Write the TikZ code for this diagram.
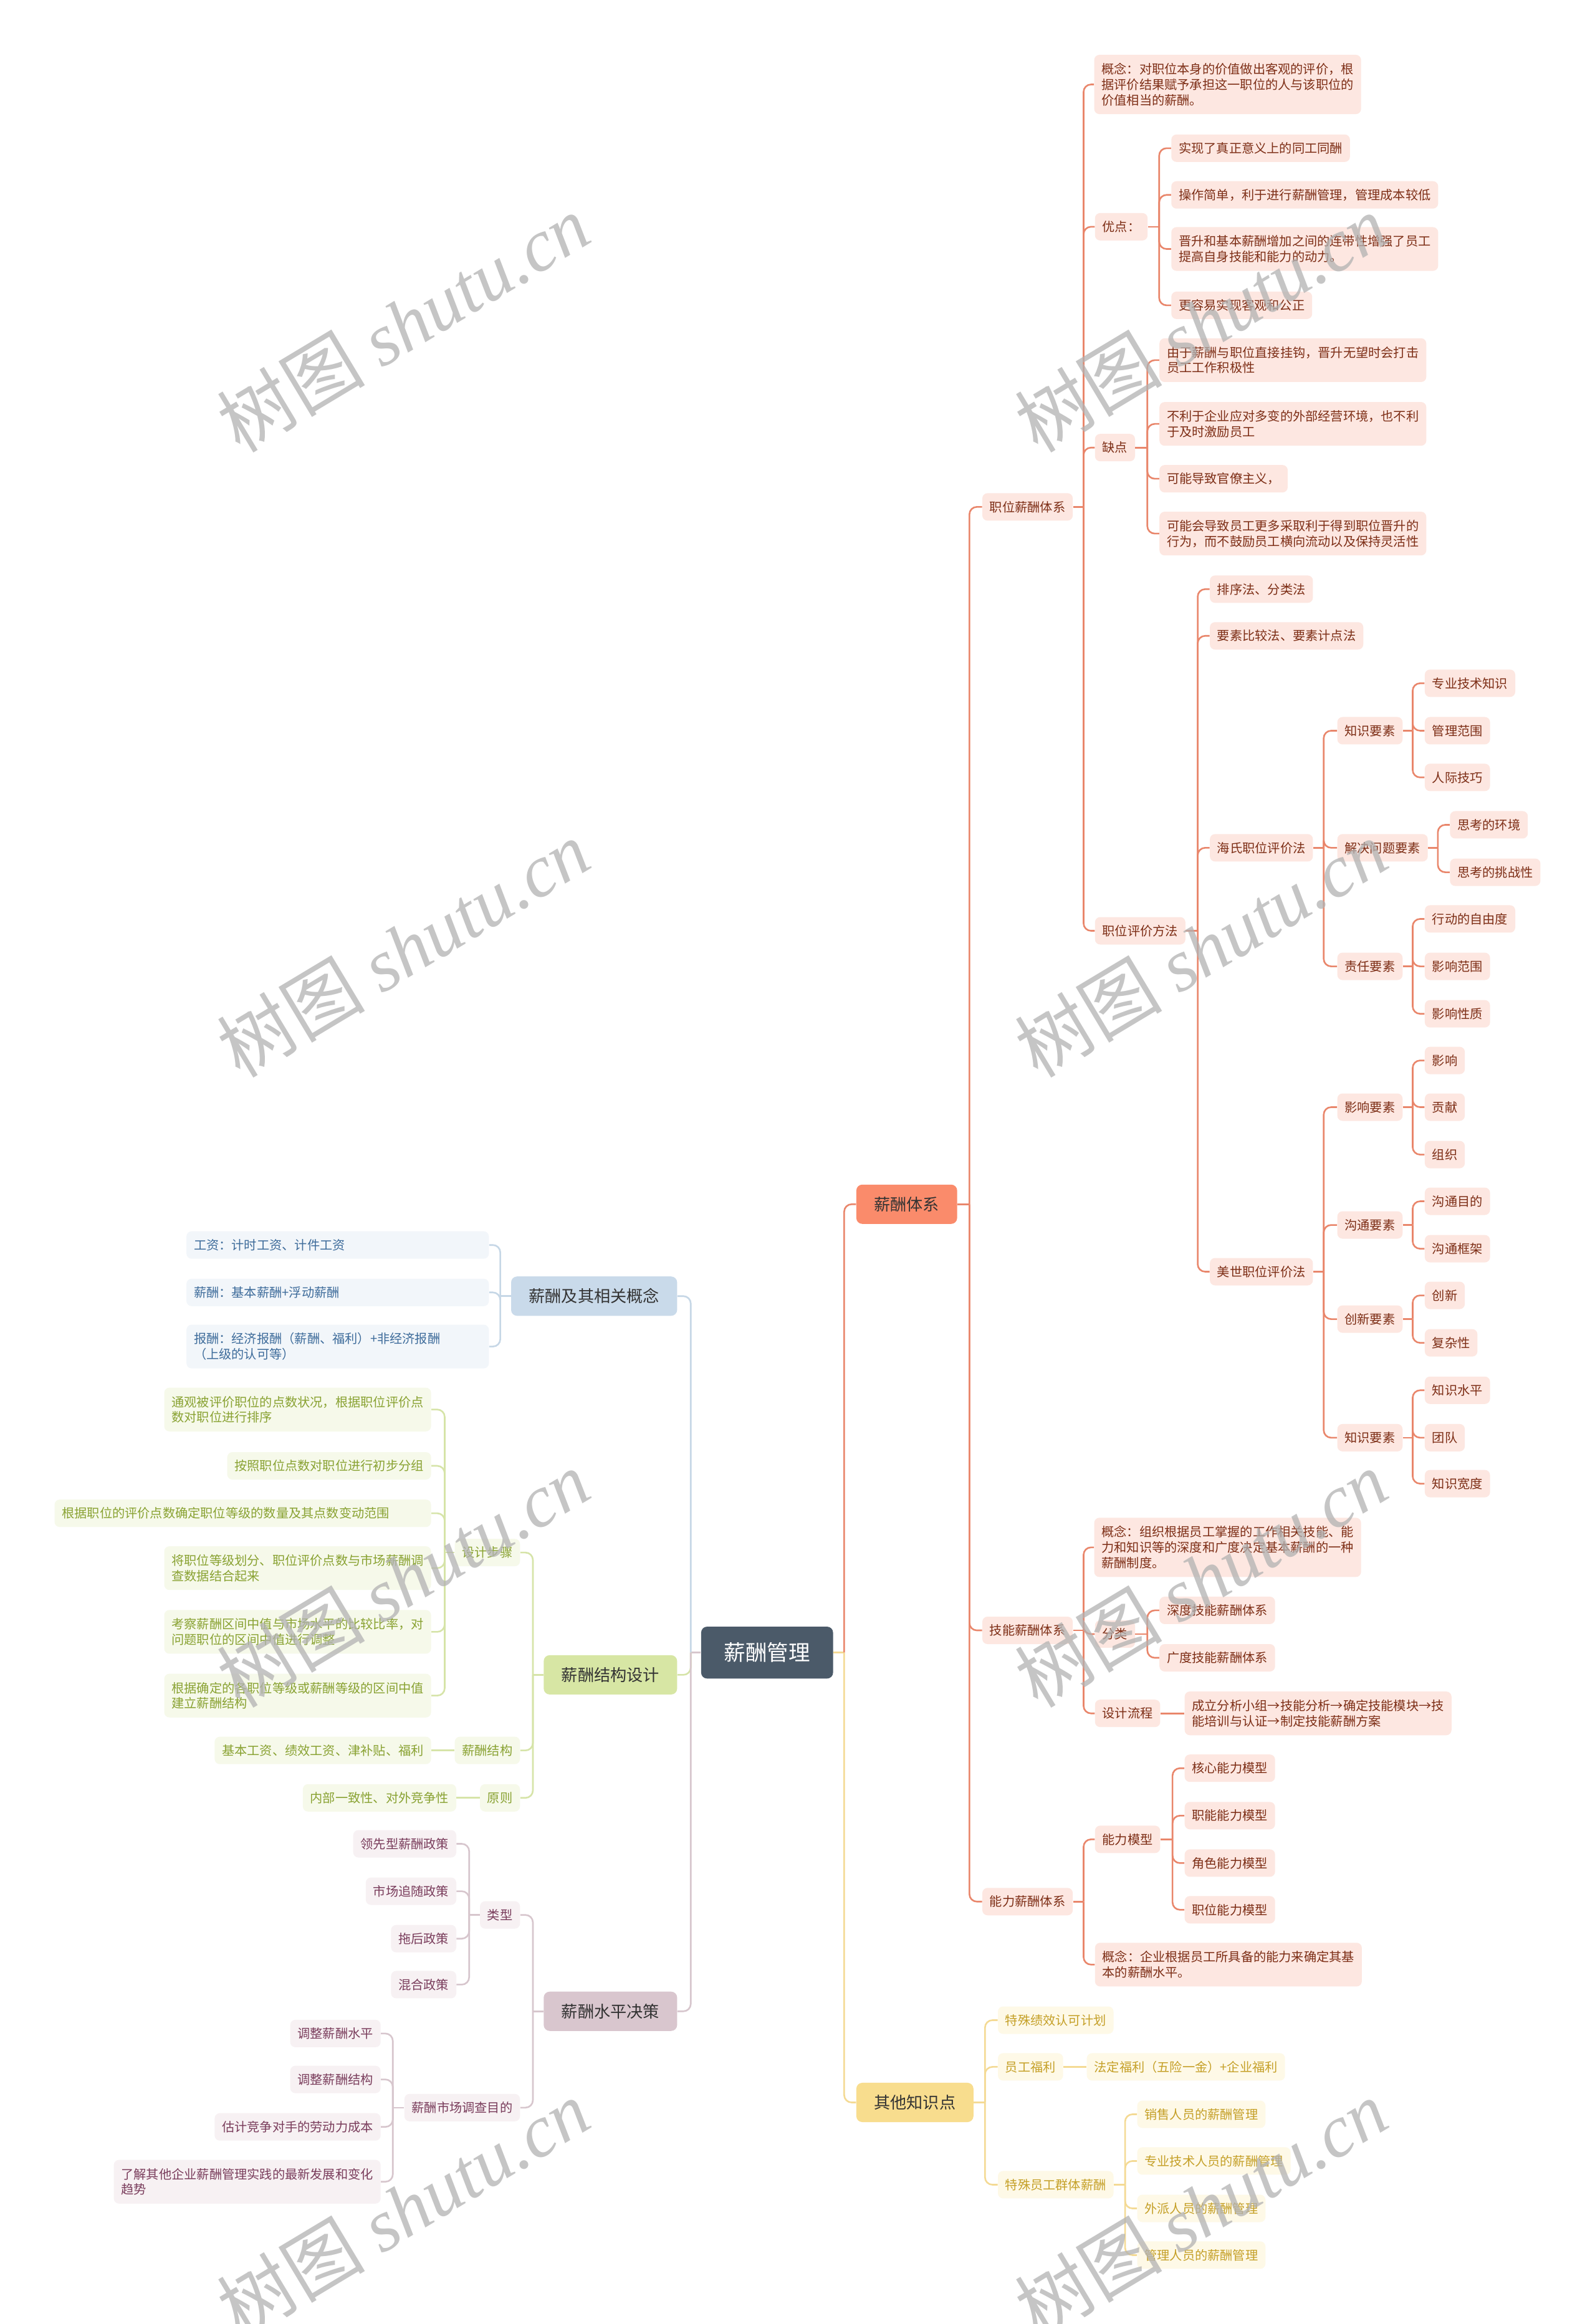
\documentclass[tikz,border=0pt]{standalone}
\usepackage{fontspec}
\setmainfont{Noto Sans CJK SC}
\newfontfamily\wmlatin{Liberation Serif}
\usetikzlibrary{calc}
\definecolor{rootc}{HTML}{4B5A69}
\definecolor{redm}{HTML}{FA8B6B}
\definecolor{redl}{HTML}{FDE7E1}
\definecolor{redt}{HTML}{7D2E16}
\definecolor{redline}{HTML}{E9866B}
\definecolor{yelm}{HTML}{F8DD8E}
\definecolor{yell}{HTML}{FEF9E7}
\definecolor{yelt}{HTML}{C5A028}
\definecolor{yelline}{HTML}{F4DA94}
\definecolor{blum}{HTML}{C9DAEA}
\definecolor{blul}{HTML}{F2F6FA}
\definecolor{blut}{HTML}{3E6C9B}
\definecolor{bluline}{HTML}{C6D7E6}
\definecolor{grem}{HTML}{D7E6A4}
\definecolor{grel}{HTML}{F6F9EA}
\definecolor{gret}{HTML}{89A232}
\definecolor{greline}{HTML}{D6E4A8}
\definecolor{maum}{HTML}{D9C6CE}
\definecolor{maul}{HTML}{F7F1F3}
\definecolor{maut}{HTML}{7A3D5C}
\definecolor{mauline}{HTML}{D7C6CD}
\tikzset{
  leaf/.style={rounded corners=3.5pt, inner xsep=5pt, inner ysep=0pt, minimum height=18.5pt,
    font=\fontsize{8.5}{10.4}\selectfont, align=left},
  two/.style={minimum height=29.5pt},
  three/.style={minimum height=40pt},
  rl/.style={leaf, fill=redl, text=redt, anchor=west},
  yl/.style={leaf, fill=yell, text=yelt, anchor=west},
  bl/.style={leaf, fill=blul, text=blut, anchor=east},
  gl/.style={leaf, fill=grel, text=gret, anchor=east},
  ml/.style={leaf, fill=maul, text=maut, anchor=east},
  mainn/.style={rounded corners=4pt, inner xsep=12pt, inner ysep=0pt, minimum height=26.5pt,
    font=\fontsize{11}{13}\selectfont, text=black!80},
  rootn/.style={rounded corners=4pt, inner xsep=15.5pt, inner ysep=0pt, minimum height=35pt,
    font=\fontsize{14.5}{16}\selectfont, text=white, fill=rootc},
  rline/.style={draw=redline, line width=1.1pt},
  yline/.style={draw=yelline, line width=1.1pt},
  bline/.style={draw=bluline, line width=1.1pt},
  gline/.style={draw=greline, line width=1.1pt},
  mline/.style={draw=mauline, line width=1.1pt},
  wm/.style={rotate=31, text=black!30, opacity=0.75, font=\fontsize{50}{50}\selectfont},
}
\newcommand\rconn[4]{%
  \draw[#1] let \p1=(#2.east) in (\p1) -- (#3,\y1) coordinate (#2j);
  \foreach \cc in {#4}{\draw[#1,rounded corners=5pt] (#2j) |- (\cc.west);}
}
\newcommand\lconn[4]{%
  \draw[#1] let \p1=(#2.west) in (\p1) -- (#3,\y1) coordinate (#2j);
  \foreach \cc in {#4}{\draw[#1,rounded corners=5pt] (#2j) |- (\cc.east);}
}
\begin{document}
\begin{tikzpicture}[x=1pt,y=-1pt]
\fill[white] (0,0) rectangle (1076,1568);
\useasboundingbox (0,0) rectangle (1076,1568);

% root and main branches
\node[rootn] (root) at (517.5,1115) {薪酬管理};
\node[mainn, fill=redm, anchor=west] (mA) at (577.5,812.5) {薪酬体系};
\node[mainn, fill=yelm, anchor=west] (mB) at (577.5,1418.5) {其他知识点};
\node[mainn, fill=blum, anchor=east] (mC) at (457,874.5) {薪酬及其相关概念};
\node[mainn, fill=grem, anchor=east] (mD) at (457,1130) {薪酬结构设计};
\node[mainn, fill=maum, anchor=east] (mE) at (457,1357) {薪酬水平决策};

% ---------- 薪酬体系 ----------
\node[rl] (a1) at (662.5,342) {职位薪酬体系};
\node[rl] (a2) at (662.5,1100) {技能薪酬体系};
\node[rl] (a3) at (662.5,1283) {能力薪酬体系};

\node[rl,three] (b1) at (738,57) {概念：对职位本身的价值做出客观的评价，根\\据评价结果赋予承担这一职位的人与该职位的\\价值相当的薪酬。};
\node[rl] (b2) at (738.5,153) {优点：};
\node[rl] (b3) at (738.5,302) {缺点};
\node[rl] (b4) at (738.5,628) {职位评价方法};

\node[rl] (c1) at (790,100) {实现了真正意义上的同工同酬};
\node[rl] (c2) at (790,131.5) {操作简单，利于进行薪酬管理，管理成本较低};
\node[rl,two] (c3) at (790,168) {晋升和基本薪酬增加之间的连带性增强了员工\\提高自身技能和能力的动力。};
\node[rl] (c4) at (790,206) {更容易实现客观和公正};

\node[rl,two] (d1) at (782,243) {由于薪酬与职位直接挂钩，晋升无望时会打击\\员工工作积极性};
\node[rl,two] (d2) at (782,286) {不利于企业应对多变的外部经营环境，也不利\\于及时激励员工};
\node[rl] (d3) at (782,323) {可能导致官僚主义，};
\node[rl,two] (d4) at (782,360) {可能会导致员工更多采取利于得到职位晋升的\\行为，而不鼓励员工横向流动以及保持灵活性};

\node[rl] (e1) at (816,397.5) {排序法、分类法};
\node[rl] (e2) at (816,429) {要素比较法、要素计点法};
\node[rl] (e3) at (816,572) {海氏职位评价法};
\node[rl] (e4) at (816,858) {美世职位评价法};

\node[rl] (f1) at (902,493) {知识要素};
\node[rl] (f2) at (902,572) {解决问题要素};
\node[rl] (f3) at (902,652) {责任要素};
\node[rl] (g1) at (961,461) {专业技术知识};
\node[rl] (g2) at (961,493) {管理范围};
\node[rl] (g3) at (961,524.5) {人际技巧};
\node[rl] (g4) at (978,556.5) {思考的环境};
\node[rl] (g5) at (978,588.5) {思考的挑战性};
\node[rl] (g6) at (961,620) {行动的自由度};
\node[rl] (g7) at (961,652) {影响范围};
\node[rl] (g8) at (961,684) {影响性质};

\node[rl] (h1) at (902,747) {影响要素};
\node[rl] (h2) at (902,826.5) {沟通要素};
\node[rl] (h3) at (902,890) {创新要素};
\node[rl] (h4) at (902,970) {知识要素};
\node[rl] (i1) at (961,715.5) {影响};
\node[rl] (i2) at (961,747) {贡献};
\node[rl] (i3) at (961,779) {组织};
\node[rl] (i4) at (961,810.5) {沟通目的};
\node[rl] (i5) at (961,842.5) {沟通框架};
\node[rl] (i6) at (961,874) {创新};
\node[rl] (i7) at (961,906) {复杂性};
\node[rl] (i8) at (961,938) {知识水平};
\node[rl] (i9) at (961,970) {团队};
\node[rl] (i10) at (961,1001) {知识宽度};

\node[rl,three] (j1) at (738,1044) {概念：组织根据员工掌握的工作相关技能、能\\力和知识等的深度和广度决定基本薪酬的一种\\薪酬制度。};
\node[rl] (j2) at (738.5,1102.5) {分类};
\node[rl] (j3) at (738.5,1156) {设计流程};
\node[rl] (k1) at (782,1086.5) {深度技能薪酬体系};
\node[rl] (k2) at (782,1118.5) {广度技能薪酬体系};
\node[rl,two] (k3) at (799,1156) {成立分析小组→技能分析→确定技能模块→技\\能培训与认证→制定技能薪酬方案};

\node[rl] (l1) at (738.5,1241) {能力模型};
\node[rl,two] (l2) at (738.5,1325.5) {概念：企业根据员工所具备的能力来确定其基\\本的薪酬水平。};
\node[rl] (l3) at (799,1193) {核心能力模型};
\node[rl] (l4) at (799,1225) {职能能力模型};
\node[rl] (l5) at (799,1257) {角色能力模型};
\node[rl] (l6) at (799,1288.5) {职位能力模型};

% ---------- 其他知识点 ----------
\node[yl] (n1) at (673,1363) {特殊绩效认可计划};
\node[yl] (n2) at (673,1394.5) {员工福利};
\node[yl] (n3) at (733,1394.5) {法定福利（五险一金）+企业福利};
\node[yl] (n4) at (673,1474) {特殊员工群体薪酬};
\node[yl] (n5) at (767,1426.5) {销售人员的薪酬管理};
\node[yl] (n6) at (767,1458) {专业技术人员的薪酬管理};
\node[yl] (n7) at (767,1490) {外派人员的薪酬管理};
\node[yl] (n8) at (767,1521.5) {管理人员的薪酬管理};

% ---------- 薪酬及其相关概念 ----------
\node[bl,text width=194pt] (o1) at (330,840) {工资：计时工资、计件工资};
\node[bl,text width=194pt] (o2) at (330,872) {薪酬：基本薪酬+浮动薪酬};
\node[bl,two,text width=194pt] (o3) at (330,908.5) {报酬：经济报酬（薪酬、福利）+非经济报酬\\（上级的认可等）};

% ---------- 薪酬结构设计 ----------
\node[gl] (p0) at (351,1047.5) {设计步骤};
\node[gl,two] (p1) at (291,951) {通观被评价职位的点数状况，根据职位评价点\\数对职位进行排序};
\node[gl] (p2) at (291,989) {按照职位点数对职位进行初步分组};
\node[gl,text width=244pt] (p3) at (291,1021) {根据职位的评价点数确定职位等级的数量及其点数变动范围};
\node[gl,two] (p4) at (291,1058) {将职位等级划分、职位评价点数与市场薪酬调\\查数据结合起来};
\node[gl,two] (p5) at (291,1101) {考察薪酬区间中值与市场水平的比较比率，对\\问题职位的区间中值进行调整};
\node[gl,two] (p6) at (291,1144) {根据确定的各职位等级或薪酬等级的区间中值\\建立薪酬结构};
\node[gl] (p7) at (351,1181) {薪酬结构};
\node[gl] (p8) at (291,1181) {基本工资、绩效工资、津补贴、福利};
\node[gl] (p9) at (351,1213) {原则};
\node[gl] (p10) at (308,1213) {内部一致性、对外竞争性};

% ---------- 薪酬水平决策 ----------
\node[ml] (q0) at (351,1292) {类型};
\node[ml] (q1) at (308,1244) {领先型薪酬政策};
\node[ml] (q2) at (308,1276) {市场追随政策};
\node[ml] (q3) at (308,1308) {拖后政策};
\node[ml] (q4) at (308,1339) {混合政策};
\node[ml] (q5) at (351,1422) {薪酬市场调查目的};
\node[ml] (q6) at (257,1372) {调整薪酬水平};
\node[ml] (q7) at (257,1403) {调整薪酬结构};
\node[ml] (q8) at (257,1435) {估计竞争对手的劳动力成本};
\node[ml,two] (q9) at (257,1472) {了解其他企业薪酬管理实践的最新发展和变化\\趋势};

% ---------- connectors ----------
\draw[yline] let \p1=(root.east) in (\p1) -- (569.5,\y1) coordinate (rootR);
\draw[rline,rounded corners=5pt] (rootR) |- (mA.west);
\draw[yline,rounded corners=5pt] (rootR) |- (mB.west);
\draw[mline] let \p1=(root.west) in (\p1) -- (466,\y1) coordinate (rootL);
\draw[bline,rounded corners=5pt] (rootL) |- (mC.east);
\draw[gline,rounded corners=5pt] (rootL) |- (mD.east);
\draw[mline,rounded corners=5pt] (rootL) |- (mE.east);

\rconn{rline}{mA}{654}{a1,a2,a3}
\rconn{rline}{a1}{731}{b1,b2,b3,b4}
\rconn{rline}{b2}{782}{c1,c2,c3,c4}
\rconn{rline}{b3}{774}{d1,d2,d3,d4}
\rconn{rline}{b4}{808}{e1,e2,e3,e4}
\rconn{rline}{e3}{893}{f1,f2,f3}
\rconn{rline}{f1}{953}{g1,g2,g3}
\rconn{rline}{f2}{970}{g4,g5}
\rconn{rline}{f3}{953}{g6,g7,g8}
\rconn{rline}{e4}{893}{h1,h2,h3,h4}
\rconn{rline}{h1}{953}{i1,i2,i3}
\rconn{rline}{h2}{953}{i4,i5}
\rconn{rline}{h3}{953}{i6,i7}
\rconn{rline}{h4}{953}{i8,i9,i10}
\rconn{rline}{a2}{731}{j1,j2,j3}
\rconn{rline}{j2}{774}{k1,k2}
\draw[rline] (j3.east) -- (k3.west);
\rconn{rline}{a3}{731}{l1,l2}
\rconn{rline}{l1}{791}{l3,l4,l5,l6}

\rconn{yline}{mB}{664.5}{n1,n2,n4}
\draw[yline] (n2.east) -- (n3.west);
\rconn{yline}{n4}{759}{n5,n6,n7,n8}

\lconn{bline}{mC}{337.5}{o1,o2,o3}

\lconn{gline}{mD}{359.5}{p0,p7,p9}
\lconn{gline}{p0}{300}{p1,p2,p3,p4,p5,p6}
\draw[gline] (p7.west) -- (p8.east);
\draw[gline] (p9.west) -- (p10.east);

\lconn{mline}{mE}{359.5}{q0,q5}
\lconn{mline}{q0}{316.5}{q1,q2,q3,q4}
\lconn{mline}{q5}{265}{q6,q7,q8,q9}

% ---------- watermark ----------
\foreach \wx/\wy [count=\wi] in {272/218, 810/218, 272/640, 810/640, 272/1065, 810/1065, 272/1490, 810/1490}
  \node[wm] (wm\wi) at (\wx,\wy) {树图 {\wmlatin\itshape shutu.cn}};
\end{tikzpicture}
\end{document}
